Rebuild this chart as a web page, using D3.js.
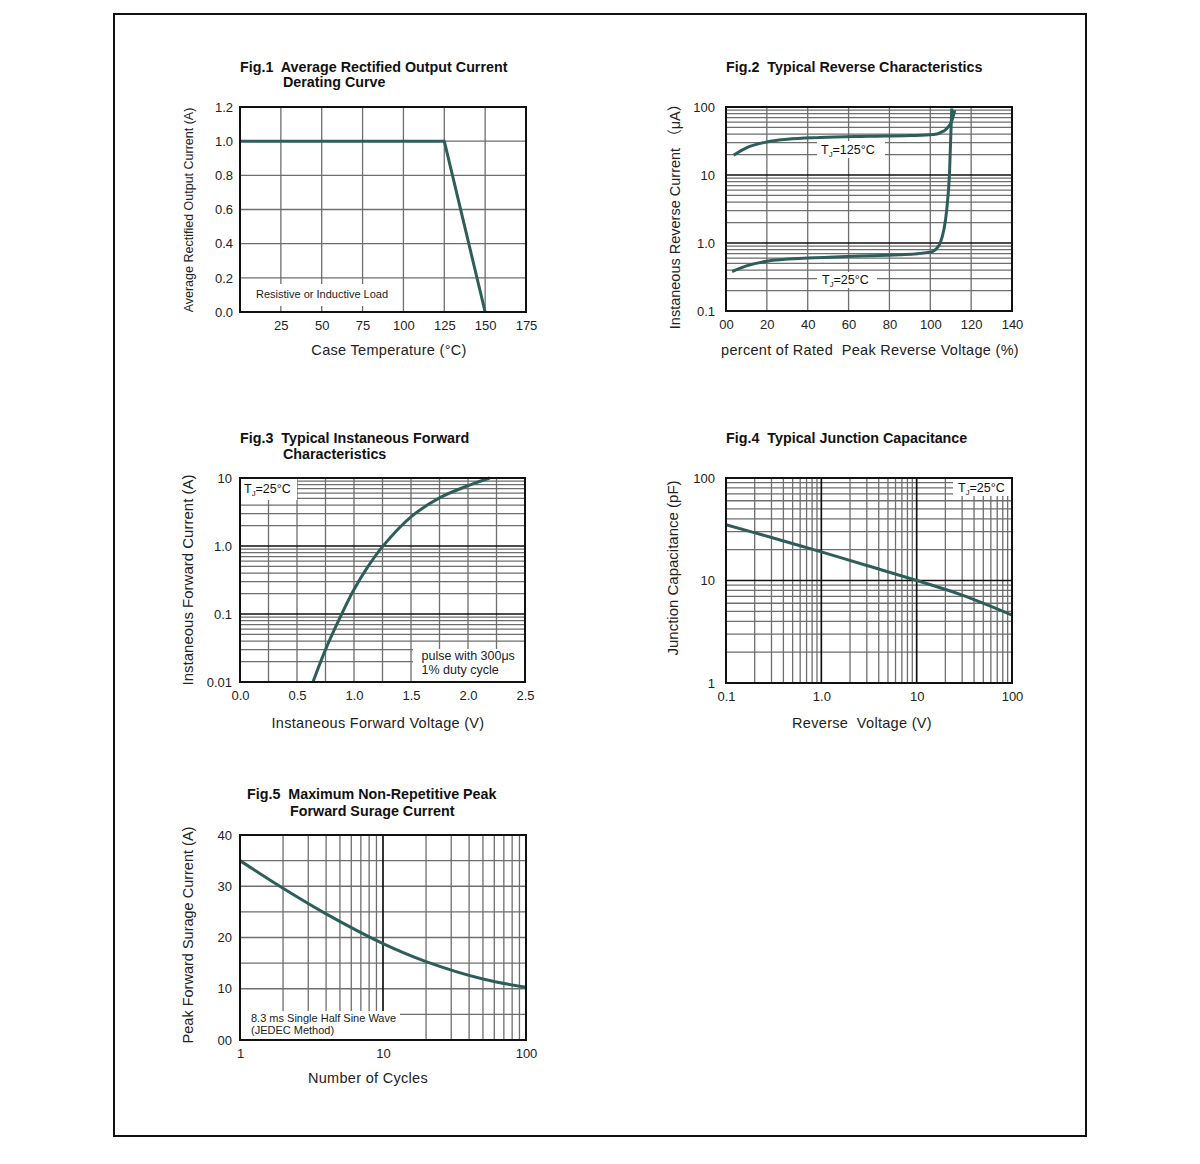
<!DOCTYPE html>
<html>
<head>
<meta charset="utf-8">
<script src="https://cdn.jsdelivr.net/npm/d3@7"></script>
<style>
  body { margin: 0; background: #fff; }
  svg { display: block; font-family: "Liberation Sans", Arial, "Noto Sans CJK SC", sans-serif; }
  svg text { white-space: pre; }
</style>
</head>
<body>
<svg id="chart" width="1200" height="1164"></svg>
<script>
// Fig.1 derating curve
const fig1Temp = [0, 125, 150];
const fig1Current = [1.0, 1.0, 0.0];
const fig1XTicks = [25, 50, 75, 100, 125, 150, 175];
const fig1YTicks = [0, 0.2, 0.4, 0.6, 0.8, 1.0, 1.2];
const fig1YLabels = ["0.0", "0.2", "0.4", "0.6", "0.8", "1.0", "1.2"];

// Fig.2 reverse characteristics
const fig2Pct125 = [3.7, 10, 20, 30, 46, 70, 90, 101.5, 105, 108, 110.5, 112];
const fig2I125 = [19.5, 25, 30.6, 33.5, 35.5, 37, 38, 39.3, 42, 48, 62, 90];
const fig2Pct25 = [3, 10, 20, 40, 62, 85, 100.7, 102.5, 104.8, 108, 109.4, 110.5];
const fig2I25 = [0.38, 0.46, 0.54, 0.6, 0.64, 0.67, 0.74, 0.8, 0.99, 3.0, 10.5, 95];
const fig2XTicks = [0, 20, 40, 60, 80, 100, 120, 140];
const fig2XLabels = ["00", "20", "40", "60", "80", "100", "120", "140"];
const fig2YTicks = [0.1, 1, 10, 100];
const fig2YLabels = ["0.1", "1.0", "10", "100"];

// Fig.3 forward characteristics
const fig3V = [0.64, 0.75, 0.875, 1.0, 1.125, 1.25, 1.5, 1.75, 2.0, 2.19];
const fig3I = [0.01, 0.03, 0.087, 0.229, 0.505, 0.98, 2.68, 5.1, 7.7, 10];
const fig3XTicks = [0, 0.5, 1.0, 1.5, 2.0, 2.5];
const fig3XLabels = ["0.0", "0.5", "1.0", "1.5", "2.0", "2.5"];
const fig3YTicks = [0.01, 0.1, 1, 10];
const fig3YLabels = ["0.01", "0.1", "1.0", "10"];

// Fig.4 junction capacitance
const fig4V = [0.1, 0.3, 1, 3, 10, 30, 100];
const fig4C = [35, 26.3, 19, 14.0, 10, 7.2, 4.6];
const fig4XTicks = [0.1, 1, 10, 100];
const fig4XLabels = ["0.1", "1.0", "10", "100"];
const fig4YTicks = [1, 10, 100];
const fig4YLabels = ["1", "10", "100"];

// Fig.5 surge current
const fig5N = [1, 2, 4, 10, 20, 50, 100];
const fig5I = [35, 29.6, 24.6, 18.8, 15.3, 11.9, 10.3];
const fig5XTicks = [1, 10, 100];
const fig5XLabels = ["1", "10", "100"];
const fig5YTicks = [0, 10, 20, 30, 40];
const fig5YLabels = ["00", "10", "20", "30", "40"];

const CURVE = "#2e5e59";
const GRID = "#6e6e6e";
const MAJOR = "#111";

const svg = d3.select("#chart");

svg.append("rect")
  .attr("x", 114).attr("y", 14)
  .attr("width", 972).attr("height", 1122)
  .attr("fill", "#fff")
  .attr("stroke", "#111")
  .attr("stroke-width", 2);

// minor lines 2..9 in every decade, majors at the inner decades
function logGrid(domain) {
  const minor = [], major = [];
  const lo = Math.round(Math.log10(domain[0]));
  const hi = Math.round(Math.log10(domain[1]));
  for (let e = lo; e < hi; e++) {
    const base = Math.pow(10, e);
    if (e > lo) major.push(base);
    for (let k = 2; k <= 9; k++) minor.push(k * base);
  }
  return { minor, major };
}

function subT(sel, x, y, main, sub, rest, size) {
  const t = sel.append("text")
    .attr("x", x).attr("y", y)
    .attr("dy", "0.35em")
    .style("font-size", size + "px")
    .attr("fill", "#111");
  t.append("tspan").text(main);
  t.append("tspan").attr("dy", 3).style("font-size", (size * 0.62) + "px").text(sub);
  t.append("tspan").attr("dy", -3).text(rest);
}

function panel(cfg) {
  const g = svg.append("g");
  const [x0, y0, x1, y1] = cfg.box;
  const xs = cfg.x.range([x0, x1]);
  const ys = cfg.y.range([y1, y0]);

  const vline = (vals, color, w) => g.append("g").selectAll("line")
    .data(vals).join("line")
    .attr("x1", d => xs(d)).attr("x2", d => xs(d))
    .attr("y1", y0).attr("y2", y1)
    .attr("stroke", color).attr("stroke-width", w);
  const hline = (vals, color, w) => g.append("g").selectAll("line")
    .data(vals).join("line")
    .attr("y1", d => ys(d)).attr("y2", d => ys(d))
    .attr("x1", x0).attr("x2", x1)
    .attr("stroke", color).attr("stroke-width", w);

  vline(cfg.xMinor || [], GRID, 1.3);
  hline(cfg.yMinor || [], GRID, 1.3);
  vline(cfg.xMajor || [], MAJOR, 1.7);
  hline(cfg.yMajor || [], MAJOR, 1.7);

  // white label boxes cover the grid
  (cfg.boxes || []).forEach(b => {
    g.append("rect")
      .attr("x", b[0]).attr("y", b[1])
      .attr("width", b[2] - b[0]).attr("height", b[3] - b[1])
      .attr("fill", "#fff");
  });

  const line = d3.line()
    .x(d => xs(d[0]))
    .y(d => ys(d[1]))
    .curve(cfg.curve || d3.curveCatmullRom.alpha(0.5));
  cfg.series.forEach(s => {
    g.append("path")
      .datum(d3.zip(s[0], s[1]))
      .attr("d", line)
      .attr("fill", "none")
      .attr("stroke", CURVE)
      .attr("stroke-width", 3)
      .attr("stroke-linejoin", "round");
  });

  g.append("rect")
    .attr("x", x0).attr("y", y0)
    .attr("width", x1 - x0).attr("height", y1 - y0)
    .attr("fill", "none")
    .attr("stroke", MAJOR)
    .attr("stroke-width", 2);

  const ax = g.append("g")
    .attr("transform", `translate(0,${y1})`)
    .call(d3.axisBottom(xs)
      .tickValues(cfg.xTicks)
      .tickFormat((d, i) => cfg.xLabels ? cfg.xLabels[i] : d)
      .tickSize(0).tickPadding(cfg.xPad || 9));
  const ay = g.append("g")
    .attr("transform", `translate(${x0},0)`)
    .call(d3.axisLeft(ys)
      .tickValues(cfg.yTicks)
      .tickFormat((d, i) => cfg.yLabels[i])
      .tickSize(0).tickPadding(cfg.yPad || 8));
  [ax, ay].forEach(a => {
    a.select(".domain").remove();
    a.attr("font-family", null).attr("font-size", null);
    a.selectAll("text").style("font-size", "13px").attr("fill", "#222");
  });

  // titles
  cfg.title.forEach(t => {
    g.append("text")
      .attr("x", t[0]).attr("y", t[1])
      .style("font-size", "14.3px").style("font-weight", "bold")
      .attr("fill", "#111")
      .text(t[2]);
  });

  g.append("text")
    .attr("x", cfg.xTitle[0]).attr("y", cfg.xTitle[1])
    .attr("text-anchor", "middle")
    .style("font-size", "14.5px").style("letter-spacing", "0.3px")
    .attr("fill", "#222")
    .text(cfg.xTitle[2]);

  g.append("text")
    .attr("transform", `translate(${cfg.yTitle[0]},${cfg.yTitle[1]}) rotate(-90)`)
    .attr("text-anchor", "middle")
    .attr("dy", "0.35em")
    .style("font-size", (cfg.yTitle[3] || 14.5) + "px")
    .attr("fill", "#222")
    .text(cfg.yTitle[2]);

  return g;
}

// Fig.1
const g1 = panel({
  box: [240, 107, 526, 312],
  x: d3.scaleLinear().domain([0, 175]),
  y: d3.scaleLinear().domain([0, 1.2]),
  xMinor: [25, 50, 75, 100, 125, 150],
  yMinor: [0.2, 0.4, 0.6, 0.8, 1.0],
  boxes: [[250, 284, 395, 306]],
  series: [[fig1Temp, fig1Current]],
  curve: d3.curveLinear,
  xTicks: fig1XTicks,
  yTicks: fig1YTicks, yLabels: fig1YLabels, yPad: 7,
  title: [[240, 72, "Fig.1  Average Rectified Output Current"], [283, 87, "Derating Curve"]],
  xTitle: [389, 355, "Case Temperature (°C)"],
  yTitle: [189, 210, "Average Rectified Output Current (A)", 12.5]
});
g1.append("text").attr("x", 256).attr("y", 294.5).attr("dy", "0.35em")
  .style("font-size", "11px").attr("fill", "#222").text("Resistive or Inductive Load");

// Fig.2
const y2 = d3.scaleLog().domain([0.1, 100]);
const lg2 = logGrid(y2.domain());
const g2 = panel({
  box: [726, 107, 1012, 311],
  x: d3.scaleLinear().domain([0, 140]),
  y: y2,
  xMinor: [20, 40, 60, 80, 100, 120],
  yMinor: lg2.minor, yMajor: lg2.major,
  boxes: [[817, 141, 885, 158], [817, 272, 877, 288]],
  series: [[fig2Pct125, fig2I125], [fig2Pct25, fig2I25]],
  curve: d3.curveMonotoneX,
  xTicks: fig2XTicks, xLabels: fig2XLabels,
  yTicks: fig2YTicks, yLabels: fig2YLabels, yPad: 11,
  title: [[726, 72, "Fig.2  Typical Reverse Characteristics"]],
  xTitle: [870, 355, "percent of Rated  Peak Reverse Voltage (%)"],
  yTitle: [675, 213, "Instaneous Reverse Current （μA）"]
});
subT(g2, 821, 149.5, "T", "J", "=125°C", 12.5);
subT(g2, 822, 280, "T", "J", "=25°C", 12.5);

// Fig.3
const y3 = d3.scaleLog().domain([0.01, 10]);
const lg3 = logGrid(y3.domain());
const g3 = panel({
  box: [240, 478, 525, 682],
  x: d3.scaleLinear().domain([0, 2.5]),
  y: y3,
  xMinor: [0.25, 0.5, 0.75, 1.0, 1.25, 1.5, 1.75, 2.0, 2.25],
  yMinor: lg3.minor, yMajor: lg3.major,
  boxes: [[240, 478, 297, 500], [413, 649, 525, 682]],
  series: [[fig3V, fig3I]],
  xTicks: fig3XTicks, xLabels: fig3XLabels, xPad: 9,
  yTicks: fig3YTicks, yLabels: fig3YLabels, yPad: 8,
  title: [[240, 443, "Fig.3  Typical Instaneous Forward"], [283, 459, "Characteristics"]],
  xTitle: [378, 728, "Instaneous Forward Voltage (V)"],
  yTitle: [188, 580, "Instaneous Forward Current (A)", 15]
});
subT(g3, 244, 489, "T", "J", "=25°C", 12.5);
g3.append("text").attr("x", 421.5).attr("y", 656).attr("dy", "0.35em")
  .style("font-size", "12.5px").attr("fill", "#222").text("pulse with 300μs");
g3.append("text").attr("x", 421.5).attr("y", 669.5).attr("dy", "0.35em")
  .style("font-size", "12.5px").attr("fill", "#222").text("1% duty cycle");

// Fig.4
const x4 = d3.scaleLog().domain([0.1, 100]);
const y4 = d3.scaleLog().domain([1, 100]);
const lgx4 = logGrid(x4.domain());
const lgy4 = logGrid(y4.domain());
const g4 = panel({
  box: [726, 478, 1012, 683],
  x: x4, y: y4,
  xMinor: lgx4.minor, xMajor: lgx4.major,
  yMinor: lgy4.minor, yMajor: lgy4.major,
  boxes: [[953, 479, 1011, 496]],
  series: [[fig4V, fig4C]],
  xTicks: fig4XTicks, xLabels: fig4XLabels,
  yTicks: fig4YTicks, yLabels: fig4YLabels, yPad: 11,
  title: [[726, 443, "Fig.4  Typical Junction Capacitance"]],
  xTitle: [862, 728, "Reverse  Voltage (V)"],
  yTitle: [673, 568, "Junction Capacitance (pF)", 15]
});
subT(g4, 958, 488, "T", "J", "=25°C", 12.5);

// Fig.5
const x5 = d3.scaleLog().domain([1, 100]);
const lgx5 = logGrid(x5.domain());
const g5 = panel({
  box: [240, 835, 526, 1040],
  x: x5,
  y: d3.scaleLinear().domain([0, 40]),
  xMinor: lgx5.minor, xMajor: lgx5.major,
  yMinor: [5, 10, 15, 20, 25, 30, 35],
  boxes: [[240, 1011, 400, 1040]],
  series: [[fig5N, fig5I]],
  xTicks: fig5XTicks, xLabels: fig5XLabels,
  yTicks: fig5YTicks, yLabels: fig5YLabels, yPad: 8,
  title: [[247, 799, "Fig.5  Maximum Non-Repetitive Peak"], [290, 816, "Forward Surage Current"]],
  xTitle: [368, 1083, "Number of Cycles"],
  yTitle: [188, 935, "Peak Forward Surage Current (A)"]
});
g5.append("text").attr("x", 251).attr("y", 1018).attr("dy", "0.35em")
  .style("font-size", "11px").attr("fill", "#222").text("8.3 ms Single Half Sine Wave");
g5.append("text").attr("x", 251).attr("y", 1030).attr("dy", "0.35em")
  .style("font-size", "11px").attr("fill", "#222").text("(JEDEC Method)");
</script>
</body>
</html>
